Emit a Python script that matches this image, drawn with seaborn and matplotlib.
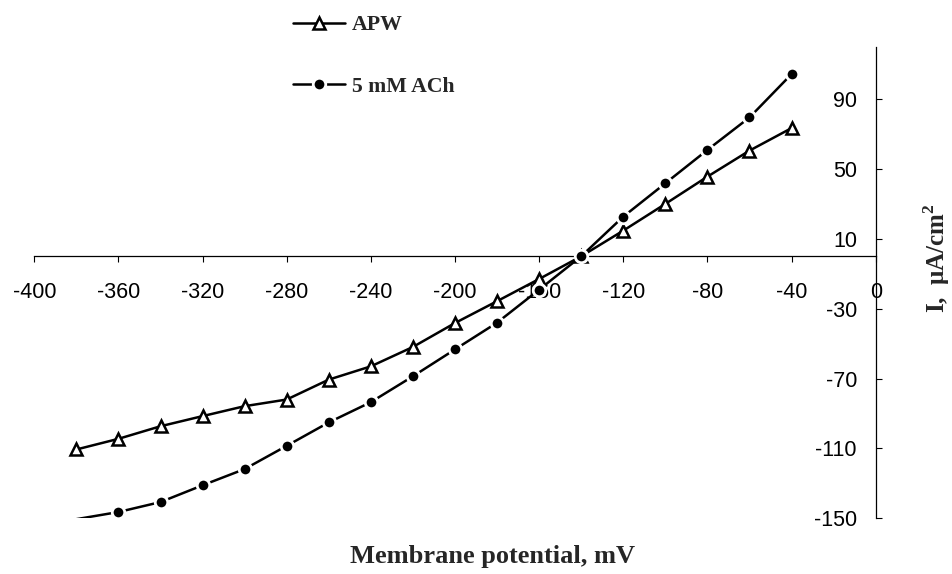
import matplotlib
matplotlib.use("Agg")
import matplotlib.pyplot as plt
from matplotlib.font_manager import FontProperties
import numpy as np
import pandas as pd
import seaborn as sns

# ---- data ----
potential = [-380, -360, -340, -320, -300, -280, -260, -240, -220, -200,
             -180, -160, -140, -120, -100, -80, -60, -40]
apw = [-110.6, -104.5, -97.3, -91.5, -85.8, -82.0, -70.6, -63.0, -51.9, -38.2,
       -25.7, -13.0, 0.0, 14.7, 30.0, 45.6, 60.5, 73.4]
ach = [-150.5, -146.4, -140.7, -131.1, -121.8, -108.5, -95.1, -83.5, -68.7, -53.3,
       -38.0, -19.1, 0.0, 22.7, 41.8, 60.9, 79.5, 104.3]
x_ticks = list(range(-400, 1, 40))
y_ticks = [-150, -110, -70, -30, 10, 50, 90]
series_labels = ["APW", "5 mM ACh"]
x_title = "Membrane potential, mV"
y_title = "I,  \u03bcA/cm$^{\\mathbf{2}}$"

df = pd.DataFrame({"potential": potential, "apw": apw, "ach": ach})

sns.set_theme(style="white")
plt.rcParams["font.family"] = ["Liberation Sans", "DejaVu Sans"]
plt.rcParams["mathtext.fontset"] = "custom"
plt.rcParams["mathtext.rm"] = "Liberation Serif"
plt.rcParams["mathtext.bf"] = "Liberation Serif:bold"

fig = plt.figure(figsize=(9.53, 5.74), dpi=100)
ax = fig.add_axes([34.3 / 953, 1 - 518.3 / 574, (875.7 - 34.3) / 953, (518.3 - 46.7) / 574])

sns.lineplot(data=df, x="potential", y="apw", ax=ax, errorbar=None,
             color="black", lw=1.8, marker="^", ms=8, mfc="white",
             mec="black", mew=1.8, label=series_labels[0], zorder=3)
sns.lineplot(data=df, x="potential", y="ach", ax=ax, errorbar=None,
             color="black", lw=1.8, marker="o", ms=9, mfc="black",
             mec="white", mew=2.0, markevery=list(range(1, len(potential))),
             label=series_labels[1], zorder=4)

ax.set_xlim(-400, 0)
ax.set_ylim(-150, 120)
ax.set_xticks(x_ticks)
ax.set_yticks(y_ticks)
ax.set_xticklabels([str(v) for v in x_ticks])
ax.set_yticklabels([str(v) for v in y_ticks])
ax.set_xlabel("")
ax.set_ylabel("")

ax.spines["top"].set_visible(False)
ax.spines["right"].set_visible(False)
ax.spines["bottom"].set_position(("data", 0))
ax.spines["left"].set_position(("data", 0))
for s in ("bottom", "left"):
    ax.spines[s].set_color("black")
    ax.spines[s].set_linewidth(0.9)

ax.tick_params(axis="x", direction="out", length=4.3, width=0.8, pad=14,
               labelsize=15.5, colors="black", bottom=True)
ax.tick_params(axis="y", direction="in", length=4.3, width=0.8, pad=13.5,
               labelsize=15.5, colors="black", left=True)
ax.grid(False)

leg_font = FontProperties(family="Liberation Serif", weight="bold", size=15.7)
ax.legend(loc="upper left", bbox_to_anchor=(293 / 953, 1 - 15 / 574),
          bbox_transform=fig.transFigure, frameon=False, prop=leg_font,
          handlelength=2.4, handletextpad=0.3, labelspacing=1.9,
          borderpad=0, borderaxespad=0)

fig.text(493 / 953, 1 - 557 / 574, x_title, ha="center", va="center",
         fontproperties=FontProperties(family="Liberation Serif", weight="bold", size=19))
fig.text(937 / 953, 1 - 258 / 574, y_title, ha="center", va="center", rotation=90,
         fontproperties=FontProperties(family="Liberation Serif", weight="bold", size=18))

fig.savefig("out.png", dpi=100)
